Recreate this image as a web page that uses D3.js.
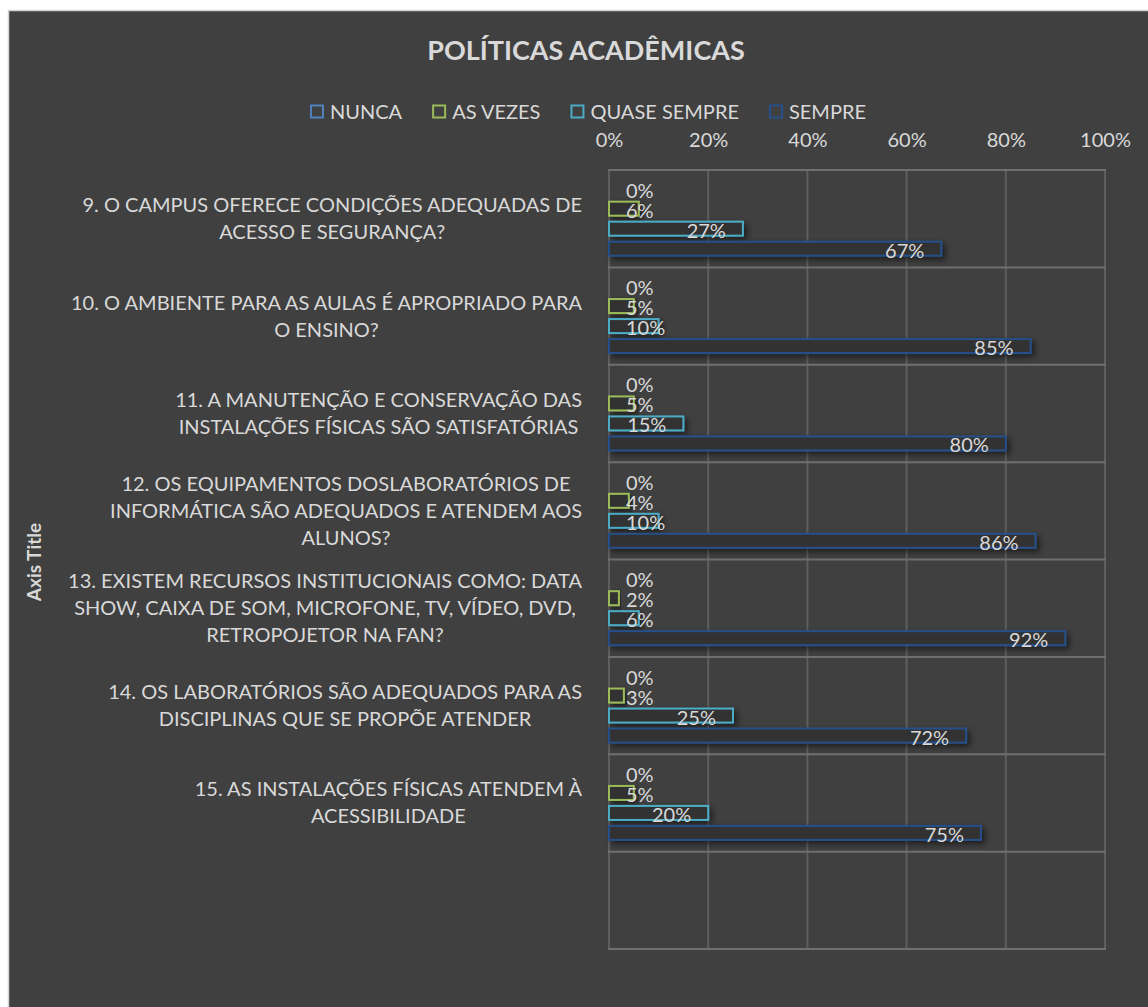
<!DOCTYPE html>
<html>
<head>
<meta charset="utf-8">
<script src="https://cdn.jsdelivr.net/npm/d3@7"></script>
<style>
  html, body { margin: 0; padding: 0; background: #fff; }
  svg text { font-family: Lato, "Open Sans", sans-serif; fill: #d9d9d9; }
</style>
</head>
<body>
<div id="chart"></div>
<script>
// categories (each one is a list of label lines), the empty last one keeps the blank row
const categories = [
    ["9. O CAMPUS OFERECE CONDIÇÕES ADEQUADAS DE", "ACESSO E SEGURANÇA?"],
    ["10. O AMBIENTE PARA AS AULAS É APROPRIADO PARA", "O ENSINO?"],
    ["11. A MANUTENÇÃO E CONSERVAÇÃO DAS", "INSTALAÇÕES FÍSICAS SÃO SATISFATÓRIAS"],
    ["12. OS EQUIPAMENTOS DOSLABORATÓRIOS DE", "INFORMÁTICA SÃO ADEQUADOS E ATENDEM AOS", "ALUNOS?"],
    ["13. EXISTEM RECURSOS INSTITUCIONAIS COMO: DATA", "SHOW, CAIXA DE SOM, MICROFONE, TV, VÍDEO, DVD,", "RETROPOJETOR NA FAN?"],
    ["14. OS LABORATÓRIOS SÃO ADEQUADOS PARA AS", "DISCIPLINAS QUE SE PROPÕE ATENDER"],
    ["15. AS INSTALAÇÕES FÍSICAS ATENDEM À", "ACESSIBILIDADE"],
    [""]
];
const seriesNames = ["NUNCA", "AS VEZES", "QUASE SEMPRE", "SEMPRE"];
const seriesColors = ["#4f81bd", "#9bbb59", "#4bacc6", "#25508a"];

const nunca       = [0, 0, 0, 0, 0, 0, 0];
const asVezes     = [0.06, 0.05, 0.05, 0.04, 0.02, 0.03, 0.05];
const quaseSempre = [0.27, 0.10, 0.15, 0.10, 0.06, 0.25, 0.20];
const sempre      = [0.67, 0.85, 0.80, 0.86, 0.92, 0.72, 0.75];

const xTicks = [0, 0.2, 0.4, 0.6, 0.8, 1];

const seriesValues = [nunca, asVezes, quaseSempre, sempre];

const W = 1148, H = 1007;
const margin = {top: 170, left: 609, right: 43, bottom: 58};

const svg = d3.select("#chart").append("svg")
    .attr("width", W)
    .attr("height", H);

const defs = svg.append("defs");
const shadow = defs.append("filter").attr("id", "shadow")
    .attr("x", "-10%").attr("y", "-50%").attr("width", "130%").attr("height", "250%");
shadow.append("feDropShadow")
    .attr("dx", 3).attr("dy", 3).attr("stdDeviation", 3)
    .attr("flood-color", "#000").attr("flood-opacity", 0.55);

// chart background
svg.append("rect")
    .attr("x", 8.5).attr("y", 10.5)
    .attr("width", W + 20).attr("height", H + 20)
    .attr("fill", "#404040")
    .attr("stroke", "#d4d4d4")
    .attr("stroke-width", 1.5);

const x = d3.scaleLinear()
    .domain([0, 1])
    .range([margin.left, W - margin.right]);

const y = d3.scaleBand()
    .domain(d3.range(categories.length))
    .range([margin.top, H - margin.bottom]);

const ySub = d3.scaleBand()
    .domain(seriesNames)
    .range([0, y.bandwidth()])
    .paddingInner(0.3)
    .paddingOuter(0.585);

// title
svg.append("text")
    .attr("x", 586).attr("y", 60)
    .attr("text-anchor", "middle")
    .style("font-size", "27px")
    .style("font-weight", "bold")
    .text("POLÍTICAS ACADÊMICAS");

// legend
const legend = svg.append("g");
let lx = 0;
seriesNames.forEach((name, i) => {
    const item = legend.append("g").attr("transform", `translate(${lx},0)`);
    item.append("rect")
        .attr("x", 1).attr("y", -6)
        .attr("width", 12).attr("height", 12)
        .attr("fill", "none")
        .attr("stroke", seriesColors[i])
        .attr("stroke-width", 2);
    const t = item.append("text")
        .attr("x", 20).attr("y", 0)
        .attr("dy", "0.35em")
        .style("font-size", "20px")
        .text(name);
    lx += 20 + t.node().getComputedTextLength() + 30;
});
const legendW = lx - 30;
legend.attr("transform", `translate(${588 - legendW / 2},111.5)`);

// gridlines
const grid = svg.append("g");
grid.selectAll("line.v")
    .data(xTicks)
    .join("line")
    .attr("class", "v")
    .attr("x1", d => x(d)).attr("x2", d => x(d))
    .attr("y1", margin.top).attr("y2", H - margin.bottom)
    .attr("stroke", "#5e5e5e")
    .attr("stroke-width", 2);

const bounds = d3.range(categories.length + 1).map(i => i === categories.length ? y.range()[1] : y(i));
grid.selectAll("line.h")
    .data(bounds)
    .join("line")
    .attr("class", "h")
    .attr("x1", x(0) - 1).attr("x2", x(1) + 1)
    .attr("y1", d => d).attr("y2", d => d)
    .attr("stroke", "#6f6f6f")
    .attr("stroke-width", 2);

// x axis labels on top
const xAxis = d3.axisTop(x)
    .tickValues(xTicks)
    .tickFormat(d3.format(".0%"))
    .tickSize(0)
    .tickPadding(0);
const xg = svg.append("g")
    .attr("transform", "translate(0,140)")
    .call(xAxis);
xg.select(".domain").remove();
xg.selectAll("text")
    .attr("y", 0).attr("dy", "0.35em")
    .style("font-size", "20px")
    .attr("fill", null);

// category labels
const catG = svg.append("g");
categories.forEach((lines, i) => {
    const g = catG.append("g");
    const cy = y(i) + y.bandwidth() / 2;
    const lh = 27;
    const texts = lines.map((line, j) => g.append("text")
        .attr("y", cy + (j - (lines.length - 1) / 2) * lh)
        .attr("dy", "0.35em")
        .attr("text-anchor", "middle")
        .style("font-size", "20px")
        .text(line));
    const maxW = d3.max(texts, t => t.node().getComputedTextLength());
    texts.forEach(t => t.attr("x", 582 - maxW / 2));
});

// axis title
svg.append("text")
    .attr("transform", "translate(34,562) rotate(-90)")
    .attr("text-anchor", "middle")
    .attr("dy", "0.35em")
    .style("font-size", "19px")
    .style("font-weight", "bold")
    .text("Axis Title");

// bars
const rows = [];
seriesNames.forEach((name, s) => {
    seriesValues[s].forEach((v, i) => rows.push({cat: i, series: name, s: s, value: v}));
});

const barsG = svg.append("g");
barsG.selectAll("rect")
    .data(rows.filter(d => d.value > 0))
    .join("rect")
    .attr("x", x(0))
    .attr("y", d => y(d.cat) + ySub(d.series))
    .attr("width", d => x(d.value) - x(0))
    .attr("height", ySub.bandwidth())
    .attr("fill", "#333333")
    .attr("stroke", d => seriesColors[d.s])
    .attr("stroke-width", 2)
    .attr("filter", "url(#shadow)");

// data labels
const labelsG = svg.append("g");
labelsG.selectAll("text")
    .data(rows)
    .join("text")
    .attr("y", d => y(d.cat) + ySub(d.series) + ySub.bandwidth() / 2 + 2)
    .attr("dy", "0.35em")
    .style("font-size", "20px")
    .text(d => d3.format(".0%")(d.value))
    .each(function(d) {
        const w = this.getComputedTextLength();
        d3.select(this).attr("x", Math.max(x(d.value) - 17 - w, x(0) + 17));
    });
</script>
</body>
</html>
